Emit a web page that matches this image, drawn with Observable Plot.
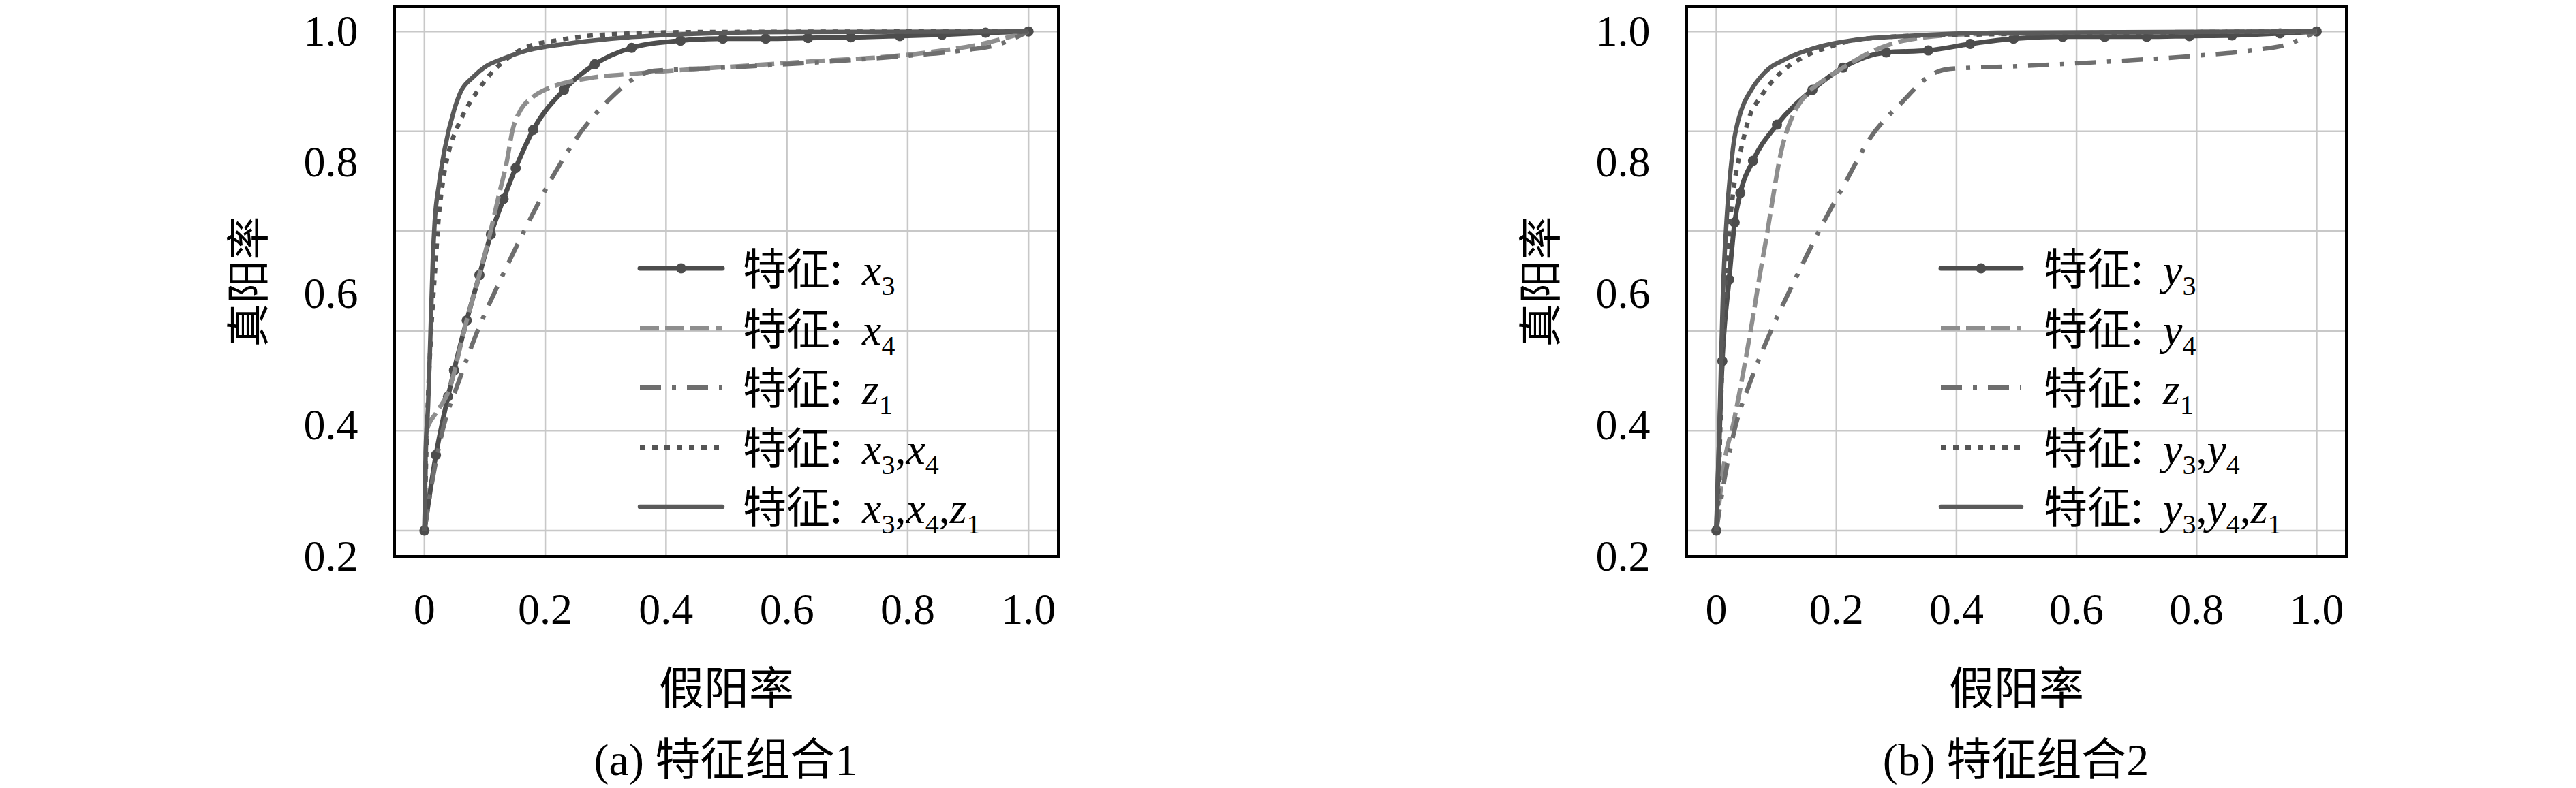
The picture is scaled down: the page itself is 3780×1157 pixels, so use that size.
<!DOCTYPE html>
<html><head><meta charset="utf-8">
<script src="https://cdn.jsdelivr.net/npm/d3@7"></script>
<script src="https://cdn.jsdelivr.net/npm/@observablehq/plot@0.6"></script>
<style>
html,body{margin:0;padding:0;background:#fff;}
#page{position:relative;width:3780px;height:1157px;overflow:hidden;background:#fff;}
.panel{position:absolute;top:0;}
.caption{position:absolute;width:800px;text-align:center;font-family:"Liberation Serif","Noto Sans CJK SC",serif;font-size:66px;line-height:80px;color:#000;white-space:nowrap;}
#overlay{position:absolute;left:0;top:0;pointer-events:none;}
</style></head><body><div id="page"></div>
<script>
// ---------- axes ----------
const xTicks = [0, 0.2, 0.4, 0.6, 0.8, 1.0];
const yTicks = [0.2, 0.4, 0.6, 0.8, 1.0];
const yGrid = [0.24, 0.392, 0.544, 0.696, 0.848, 1.0];
const xTitle = "假阳率";
const yTitle = "真阳率";
const captions = ["(a) 特征组合1", "(b) 特征组合2"];

// ---------- panel (a) ----------
const a_x3_fpr = [0, 0.019, 0.039, 0.049, 0.070, 0.091, 0.110, 0.131, 0.151, 0.180, 0.231, 0.282, 0.343, 0.424, 0.494, 0.565, 0.635, 0.706, 0.787, 0.857, 0.929, 1.0];
const a_x3_tpr = [0.24, 0.355, 0.444, 0.484, 0.560, 0.629, 0.691, 0.745, 0.792, 0.850, 0.911, 0.950, 0.975, 0.986, 0.989, 0.989, 0.990, 0.991, 0.993, 0.995, 0.998, 1.0];
const a_x4_fpr = [0, 0.004, 0.02, 0.039, 0.07, 0.091, 0.108, 0.123, 0.136, 0.146, 0.159, 0.178, 0.204, 0.234, 0.28, 0.352, 0.6, 0.824, 0.923, 1.0];
const a_x4_tpr = [0.24, 0.393, 0.42, 0.45, 0.56, 0.63, 0.69, 0.75, 0.80, 0.85, 0.88, 0.899, 0.913, 0.922, 0.930, 0.936, 0.952, 0.967, 0.981, 1.0];
const a_z1_fpr = [0, 0.012, 0.03, 0.058, 0.088, 0.125, 0.165, 0.21, 0.26, 0.31, 0.35, 0.38, 0.5, 0.65, 0.8, 0.9, 0.95, 1.0];
const a_z1_tpr = [0.24, 0.31, 0.392, 0.47, 0.544, 0.62, 0.696, 0.775, 0.848, 0.90, 0.93, 0.94, 0.945, 0.953, 0.963, 0.972, 0.98, 1.0];
const a_x3x4_fpr = [0, 0.004, 0.011, 0.019, 0.023, 0.03, 0.042, 0.053, 0.068, 0.087, 0.11, 0.136, 0.166, 0.22, 0.295, 0.45, 1.0];
const a_x3x4_tpr = [0.24, 0.39, 0.54, 0.655, 0.71, 0.767, 0.823, 0.851, 0.88, 0.908, 0.936, 0.958, 0.975, 0.9865, 0.995, 0.999, 1.0];
const a_all_fpr = [0, 0.002, 0.006, 0.010, 0.014, 0.017, 0.024, 0.034, 0.049, 0.06, 0.08, 0.102, 0.129, 0.166, 0.234, 0.31, 0.41, 0.6, 1.0];
const a_all_tpr = [0.24, 0.36, 0.43, 0.54, 0.655, 0.71, 0.767, 0.823, 0.88, 0.908, 0.93, 0.947, 0.958, 0.97, 0.981, 0.989, 0.995, 0.999, 1.0];

// ---------- panel (b) ----------
const b_y3_fpr = [0, 0.0099, 0.0213, 0.0305, 0.040, 0.061, 0.101, 0.160, 0.211, 0.283, 0.353, 0.423, 0.495, 0.577, 0.647, 0.717, 0.788, 0.859, 0.939, 1.0];
const b_y3_tpr = [0.24, 0.498, 0.622, 0.709, 0.754, 0.803, 0.858, 0.911, 0.945, 0.968, 0.971, 0.981, 0.989, 0.992, 0.992, 0.992, 0.993, 0.994, 0.997, 1.0];
const b_y4_fpr = [0, 0.011, 0.03, 0.046, 0.061, 0.072, 0.084, 0.095, 0.107, 0.126, 0.149, 0.179, 0.217, 0.263, 0.324, 0.43, 1.0];
const b_y4_tpr = [0.24, 0.33, 0.41, 0.487, 0.565, 0.627, 0.689, 0.751, 0.813, 0.869, 0.903, 0.926, 0.948, 0.971, 0.988, 0.996, 1.0];
const b_z1_fpr = [0, 0.012, 0.03, 0.058, 0.091, 0.13, 0.171, 0.215, 0.255, 0.309, 0.36, 0.39, 0.5, 0.65, 0.8, 0.9, 0.95, 1.0];
const b_z1_tpr = [0.24, 0.31, 0.392, 0.47, 0.544, 0.62, 0.696, 0.77, 0.836, 0.892, 0.935, 0.943, 0.947, 0.954, 0.963, 0.972, 0.98, 1.0];
const b_y3y4_fpr = [0, 0.004, 0.01, 0.016, 0.023, 0.03, 0.042, 0.053, 0.076, 0.107, 0.141, 0.187, 0.24, 0.354, 1.0];
const b_y3y4_tpr = [0.24, 0.32, 0.5, 0.62, 0.712, 0.768, 0.824, 0.864, 0.903, 0.937, 0.959, 0.976, 0.988, 0.994, 1.0];
const b_all_fpr = [0, 0.004, 0.0076, 0.011, 0.017, 0.028, 0.042, 0.057, 0.08, 0.118, 0.168, 0.24, 0.316, 0.468, 1.0];
const b_all_tpr = [0.24, 0.36, 0.487, 0.6, 0.712, 0.824, 0.881, 0.909, 0.937, 0.959, 0.976, 0.988, 0.993, 0.998, 1.0];

// legend labels: [variable, subscript] tokens
const legendA = [[["x","3"]], [["x","4"]], [["z","1"]], [["x","3"],["x","4"]], [["x","3"],["x","4"],["z","1"]]];
const legendB = [[["y","3"]], [["y","4"]], [["z","1"]], [["y","3"],["y","4"]], [["y","3"],["y","4"],["z","1"]]];
const legendPrefix = "特征:";

// ---------- styles ----------
const styles = [
  {stroke: "#4d4d4d", width: 7,   dash: null,          dots: true},
  {stroke: "#8e8e8e", width: 6.5, dash: "28,9",        dots: false},
  {stroke: "#6e6e6e", width: 6.5, dash: "31,16,6,16",  dots: false},
  {stroke: "#555555", width: 6.5, dash: "8,10",        dots: false},
  {stroke: "#5a5a5a", width: 6.5, dash: null,          dots: false}
];

const table = (f, t) => f.map((v, i) => ({fpr: v, tpr: t[i]}));
const seriesA = [table(a_x3_fpr, a_x3_tpr), table(a_x4_fpr, a_x4_tpr), table(a_z1_fpr, a_z1_tpr), table(a_x3x4_fpr, a_x3x4_tpr), table(a_all_fpr, a_all_tpr)];
const seriesB = [table(b_y3_fpr, b_y3_tpr), table(b_y4_fpr, b_y4_tpr), table(b_z1_fpr, b_z1_tpr), table(b_y3y4_fpr, b_y3y4_tpr), table(b_all_fpr, b_all_tpr)];

function panel(series, marginLeft) {
  const marks = [
    Plot.gridX(xTicks, {stroke: "#c8c8c8", strokeOpacity: 1, strokeWidth: 2.5}),
    Plot.gridY(yGrid, {stroke: "#c8c8c8", strokeOpacity: 1, strokeWidth: 2.5})
  ];
  series.forEach((s, i) => {
    const st = styles[i];
    marks.push(Plot.line(s, {x: "fpr", y: "tpr", stroke: st.stroke, strokeWidth: st.width,
      strokeDasharray: st.dash || undefined, curve: "monotone-x", strokeLinecap: "butt", strokeLinejoin: "round"}));
    if (st.dots) marks.push(Plot.dot(s, {x: "fpr", y: "tpr", r: 7.5, fill: st.stroke, stroke: "none"}));
  });
  marks.push(
    Plot.frame({stroke: "#000", strokeWidth: 5}),
    Plot.axisX(xTicks, {tickSize: 0, tickPadding: 53, label: null, fontSize: 64,
      tickFormat: d => d === 0 ? "0" : d.toFixed(1)}),
    Plot.axisY(yTicks, {tickSize: 0, tickPadding: 53, label: null, fontSize: 64,
      tickFormat: d => d.toFixed(1)}),
    Plot.text([xTitle], {text: d => d, frameAnchor: "bottom", dy: 195, textAnchor: "middle", lineAnchor: "middle",
      fontFamily: "Noto Sans CJK SC", fontSize: 66, fill: "#000"}),
    Plot.text([yTitle], {text: d => d, frameAnchor: "left", dx: -212, rotate: -90, textAnchor: "middle", lineAnchor: "middle",
      fontFamily: "Noto Sans CJK SC", fontSize: 64, fill: "#000"})
  );
  return Plot.plot({
    width: 1890, height: 1060,
    marginLeft, marginRight: 337, marginTop: 9, marginBottom: 243,
    x: {domain: [-0.05, 1.05]},
    y: {domain: [0.2, 1.038]},
    style: {fontFamily: "Liberation Serif", fontSize: "64px", color: "#000", background: "transparent", overflow: "visible"},
    marks
  });
}

const page = document.getElementById("page");
[[seriesA, 578, 0], [seriesB, 584, 1890]].forEach(([s, ml, left]) => {
  const d = document.createElement("div");
  d.className = "panel";
  d.style.left = left + "px";
  d.appendChild(panel(s, ml));
  page.appendChild(d);
});

// captions
[[captions[0], 1065], [captions[1], 2958]].forEach(([t, cx]) => {
  const c = document.createElement("div");
  c.className = "caption";
  c.style.left = (cx - 400) + "px";
  c.style.top = "1076px";
  c.textContent = t;
  page.appendChild(c);
});

// legends (overlay)
const svg = d3.select(page).append("svg").attr("id", "overlay").attr("width", 3780).attr("height", 1157);
const rows = [394, 482, 569, 657, 744];
function legend(labels, x0, x1, tx) {
  labels.forEach((tokens, i) => {
    const st = styles[i], y = rows[i];
    svg.append("line").attr("x1", x0).attr("x2", x1).attr("y1", y).attr("y2", y)
      .attr("stroke", st.stroke).attr("stroke-width", st.width)
      .attr("stroke-dasharray", st.dash).attr("stroke-linecap", st.dash ? "butt" : "round");
    if (st.dots) svg.append("circle").attr("cx", (x0 + x1) / 2).attr("cy", y).attr("r", 7.5).attr("fill", st.stroke);
    svg.append("text").attr("x", tx).attr("y", y + 24).attr("font-size", 64).attr("fill", "#000")
      .attr("font-family", "Noto Sans CJK SC").text(legendPrefix);
    const t = svg.append("text").attr("x", tx + 175).attr("y", y + 24).attr("font-size", 64).attr("fill", "#000")
      .attr("font-family", "Liberation Serif");
    tokens.forEach(([v, sub], j) => {
      if (j > 0) t.append("tspan").attr("dy", -15).text(",");
      t.append("tspan").attr("font-style", "italic").text(v);
      t.append("tspan").attr("font-size", 40).attr("dy", 15).text(sub);
    });
  });
}
legend(legendA, 939, 1060, 1090);
legend(legendB, 2848, 2966, 2999);
</script></body></html>
